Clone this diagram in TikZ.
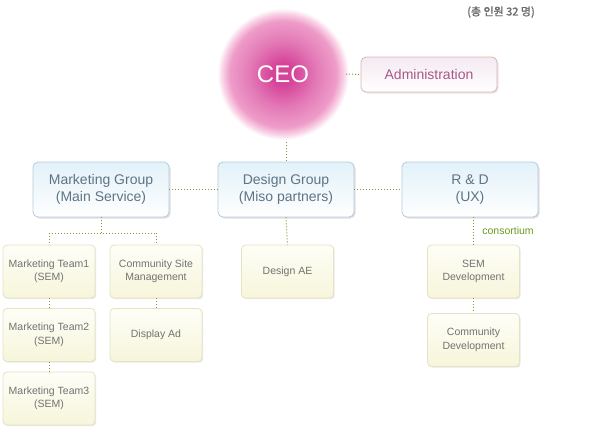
\documentclass[tikz,border=0pt]{standalone}
\usepackage{fontspec}
\setmainfont{Liberation Sans}
\newfontfamily\kr[FakeBold=1.5]{Noto Sans CJK KR}
\usetikzlibrary{shadows}
\definecolor{ceoA}{HTML}{D6449A}
\definecolor{ceoB}{HTML}{E37AB7}
\definecolor{ceoC}{HTML}{EE9CC9}
\definecolor{ceoD}{HTML}{F8CFE4}
\definecolor{grpBorder}{HTML}{B6CBE0}
\definecolor{grpTop}{HTML}{E2F1F9}
\definecolor{grpText}{HTML}{5E7484}
\definecolor{subBorder}{HTML}{E4E4C4}
\definecolor{subTop}{HTML}{FEFEF8}
\definecolor{subBot}{HTML}{F7F5DA}
\definecolor{subText}{HTML}{727272}
\definecolor{admBorder}{HTML}{E2B2B2}
\definecolor{admTop}{HTML}{F4EAF2}
\definecolor{admText}{HTML}{A8588C}
\definecolor{dotGreen}{HTML}{7C9A2E}
\definecolor{consGreen}{HTML}{6A9A1C}
\definecolor{noteGray}{HTML}{6A6A6A}
\pgfdeclareradialshading{ceoshade}{\pgfpoint{0bp}{0bp}}{color(0bp)=(ceoA); color(4bp)=(ceoA); color(12bp)=(ceoB); color(19bp)=(ceoC); color(21.5bp)=(ceoD); color(23.5bp)=(white); color(50bp)=(white)}
\tikzset{
  grpbox/.style={draw=grpBorder, line width=0.8pt, rounded corners=5pt, top color=grpTop, bottom color=white,
    minimum width=136pt, minimum height=55pt, align=center, text=grpText, font=\fontsize{14}{17}\selectfont,
    drop shadow={shadow xshift=1.5pt, shadow yshift=-1.5pt, opacity=0.25}},
  subbox/.style={draw=subBorder, line width=0.8pt, rounded corners=4pt, top color=subTop, bottom color=subBot,
    minimum width=92pt, minimum height=53pt, align=center, text=subText, font=\fontsize{10.5}{13.5}\selectfont,
    drop shadow={shadow xshift=1.2pt, shadow yshift=-1.2pt, opacity=0.18}},
  admbox/.style={draw=admBorder, line width=0.8pt, rounded corners=5pt, top color=admTop, bottom color=white,
    minimum width=136pt, minimum height=35pt, text=admText, font=\fontsize{14}{17}\selectfont,
    drop shadow={shadow xshift=1.5pt, shadow yshift=-1.5pt, opacity=0.2}},
  dotline/.style={draw=dotGreen, line width=1pt, dash pattern=on 1pt off 2pt},
}
\begin{document}
\begin{tikzpicture}[x=1pt,y=-1pt]
\useasboundingbox (0,0) rectangle (600,440);
% note
\node[text=noteGray, font=\kr\fontsize{11}{13}\selectfont] (note) at (501,12) {(총 인원 32 명)};
% CEO soft glow
\shade[shading=ceoshade] (213,4) rectangle (353,144);
\node[circle, minimum size=126pt, inner sep=0pt, text=white, font=\fontsize{24}{28}\selectfont] (ceo) at (283,74) {CEO};
\node[admbox] (adm) at (429,74.5) {Administration};
% groups
\node[grpbox] (mg) at (101,189.5) {Marketing Group\\(Main Service)};
\node[grpbox] (dg) at (286,189.5) {Design Group\\(Miso partners)};
\node[grpbox] (rd) at (470,189.5) {R \& D\\(UX)};
% sub boxes
\node[subbox] (mt1) at (49,271.5) {Marketing Team1\\(SEM)};
\node[subbox] (mt2) at (49,335) {Marketing Team2\\(SEM)};
\node[subbox] (mt3) at (49,398.5) {Marketing Team3\\(SEM)};
\node[subbox] (csm) at (156,271.5) {Community Site\\Management};
\node[subbox] (dad) at (156,335) {Display Ad};
\node[subbox] (dae) at (287.5,271.5) {Design AE};
\node[subbox] (sem) at (473.5,271.5) {SEM\\Development};
\node[subbox] (cdv) at (473.5,340) {Community\\Development};
\node[text=consGreen, font=\fontsize{10.5}{12}\selectfont] (cons) at (508,231) {consortium};
% connectors
\coordinate (mgj) at (101,233);
\draw[dotline] (ceo.east) -- (adm.west);
\draw[dotline] (dg.north |- 0,142) -- (dg.north);
\draw[dotline] (mg.east) -- (dg.west);
\draw[dotline] (dg.east) -- (rd.west);
\draw[dotline] (mg.south) -- (mgj);
\draw[dotline] (mt1.north |- mgj) -- (csm.north |- mgj);
\draw[dotline] (mt1.north |- mgj) -- (mt1.north);
\draw[dotline] (csm.north |- mgj) -- (csm.north);
\draw[dotline] (mt1.south) -- (mt2.north);
\draw[dotline] (mt2.south) -- (mt3.north);
\draw[dotline] (csm.south) -- (dad.north);
\draw[dotline] (dg.south) -- (dae.north);
\draw[dotline] (sem.north |- rd.south) -- (sem.north);
\draw[dotline] (sem.south) -- (cdv.north);
\end{tikzpicture}
\end{document}
